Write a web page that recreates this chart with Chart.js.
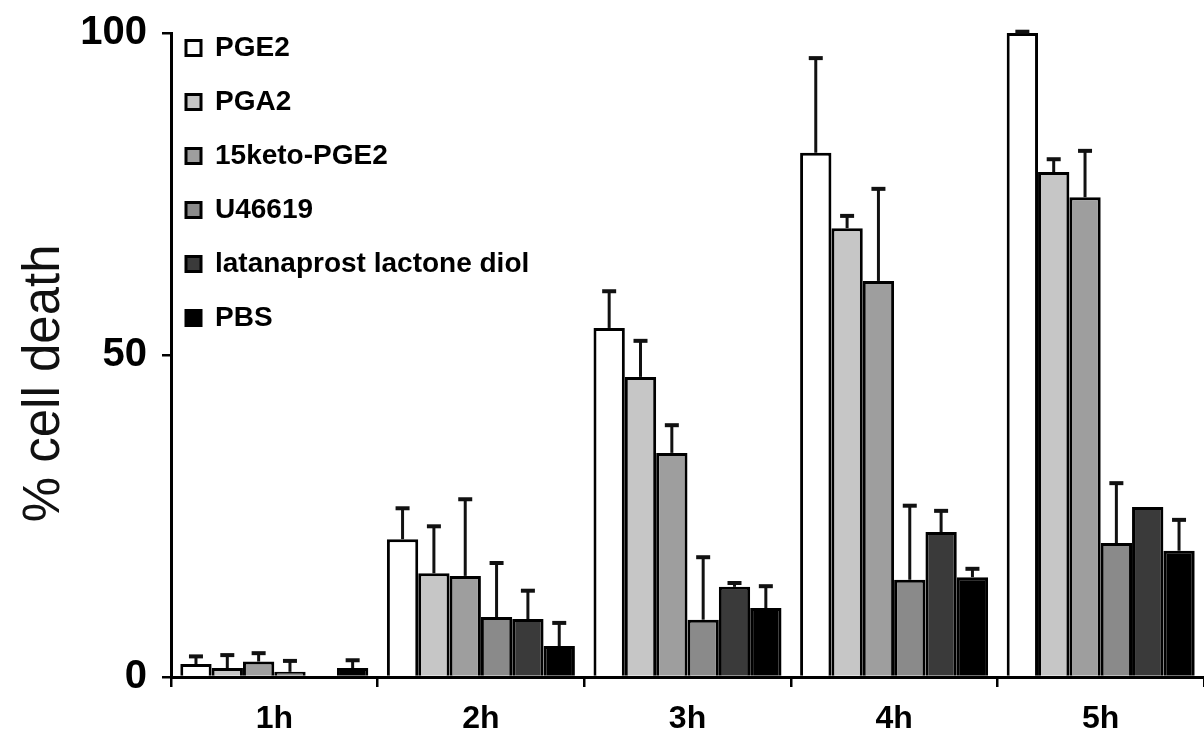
<!DOCTYPE html>
<html>
<head>
<meta charset="utf-8">
<script src="https://cdn.jsdelivr.net/npm/chart.js@4.4.1/dist/chart.umd.min.js"></script>
<style>
  html, body { margin: 0; padding: 0; background: #fff; overflow: hidden; }
  #wrap { width: 1204px; height: 753px; }
</style>
</head>
<body>
<div id="wrap"><canvas id="chart" width="1204" height="753"></canvas></div>
<script>
const timePoints = ["1h", "2h", "3h", "4h", "5h"];

const seriesNames = ["PGE2", "PGA2", "15keto-PGE2", "U46619", "latanaprost lactone diol", "PBS"];

const pge2 = [2.0, 21.4, 54.2, 81.4, 100];
const pga2 = [1.4, 16.1, 46.6, 69.7, 78.4];
const keto = [2.4, 15.7, 34.8, 61.5, 74.5];
const u46619 = [0.8, 9.3, 8.9, 15.1, 20.8];
const latanaprost = [0, 9.0, 14.0, 22.5, 26.4];
const pbs = [1.4, 4.8, 10.7, 15.5, 19.6];

// upper error bars (SD)
const pge2Err = [1.2, 4.8, 5.7, 14.7, 0.2];
const pga2Err = [2.0, 7.3, 5.6, 1.9, 2.0];
const ketoErr = [1.3, 11.9, 4.3, 14.3, 7.2];
const u46619Err = [1.7, 8.4, 9.7, 11.5, 9.3];
const latanaprostErr = [0, 4.4, 0.6, 3.3, 0];
const pbsErr = [1.2, 3.6, 3.4, 1.3, 4.8];

const yTicks = [0, 50, 100];

const fillColors = ["#ffffff", "#c6c6c6", "#9e9e9e", "#8a8a8a", "#3a3a3a", "#000000"];
const allValues = [pge2, pga2, keto, u46619, latanaprost, pbs];
const allErrors = [pge2Err, pga2Err, ketoErr, u46619Err, latanaprostErr, pbsErr];

const FONT = "'Liberation Sans', Arial, sans-serif";

const errorBars = {
    id: "errorBars",
    afterDatasetsDraw(chart) {
        const ctx = chart.ctx;
        const yScale = chart.scales.y;
        ctx.save();
        ctx.strokeStyle = "#111";
        chart.data.datasets.forEach((ds, di) => {
            const meta = chart.getDatasetMeta(di);
            meta.data.forEach((bar, i) => {
                const err = ds.errors[i];
                if (!err) return;
                const yTop = yScale.getPixelForValue(ds.data[i] + err);
                const yBar = yScale.getPixelForValue(ds.data[i]);
                ctx.lineWidth = 3;
                ctx.beginPath();
                ctx.moveTo(bar.x, yBar);
                ctx.lineTo(bar.x, yTop);
                ctx.stroke();
                ctx.lineWidth = 4;
                ctx.beginPath();
                ctx.moveTo(bar.x - 7, yTop);
                ctx.lineTo(bar.x + 7, yTop);
                ctx.stroke();
            });
        });
        ctx.restore();
    }
};

// move the legend into the top left corner of the plot
const legendSpot = {
    id: "legendSpot",
    afterLayout(chart) {
        const lg = chart.legend;
        const dx = chart.chartArea.left - 11 - lg.left;
        const dy = chart.chartArea.top - 25 - lg.top;
        lg.left += dx; lg.right += dx;
        lg.top += dy; lg.bottom += dy;
    }
};

const datasets = seriesNames.map((name, i) => ({
    label: name,
    data: allValues[i],
    errors: allErrors[i],
    backgroundColor: fillColors[i],
    borderColor: "#000",
    borderWidth: 3,
    borderSkipped: "bottom",
    categoryPercentage: 0.91,
    barPercentage: 1.0,
}));

new Chart(document.getElementById("chart"), {
    type: "bar",
    data: { labels: timePoints, datasets: datasets },
    plugins: [errorBars, legendSpot],
    options: {
        responsive: false,
        animation: false,
        devicePixelRatio: 1,
        layout: { padding: { top: 33, right: 0, bottom: 0, left: 0 } },
        plugins: {
            tooltip: { enabled: false },
            legend: {
                position: "chartArea",
                align: "start",
                labels: {
                    color: "#000",
                    font: { family: FONT, size: 28, weight: "bold" },
                    boxWidth: 15,
                    boxHeight: 15,
                    padding: 26,
                },
            },
        },
        scales: {
            x: {
                afterFit: (s) => { s.height = 76; },
                grid: {
                    display: true,
                    drawOnChartArea: false,
                    offset: true,
                    color: "#000",
                    lineWidth: 2.5,
                    tickLength: 10,
                },
                border: { display: true, color: "#000", width: 3 },
                ticks: {
                    color: "#000",
                    padding: 13,
                    font: { family: FONT, size: 32, weight: "bold" },
                },
            },
            y: {
                min: 0,
                max: 100,
                afterFit: (s) => {
                    s.width = 171;
                    s.paddingTop = 0;
                    s.paddingBottom = 0;
                },
                afterBuildTicks: (s) => { s.ticks = yTicks.map(v => ({ value: v })); },
                grid: {
                    display: true,
                    drawOnChartArea: false,
                    color: "#000",
                    lineWidth: 2.5,
                    tickLength: 9,
                },
                border: { display: true, color: "#000", width: 3 },
                ticks: {
                    color: "#000",
                    padding: 15,
                    font: { family: FONT, size: 40, weight: "bold" },
                },
                title: {
                    display: true,
                    text: "% cell death    ",
                    color: "#111",
                    padding: { top: 14 },
                    font: { family: FONT, size: 51 },
                },
            },
        },
    },
});
</script>
</body>
</html>
